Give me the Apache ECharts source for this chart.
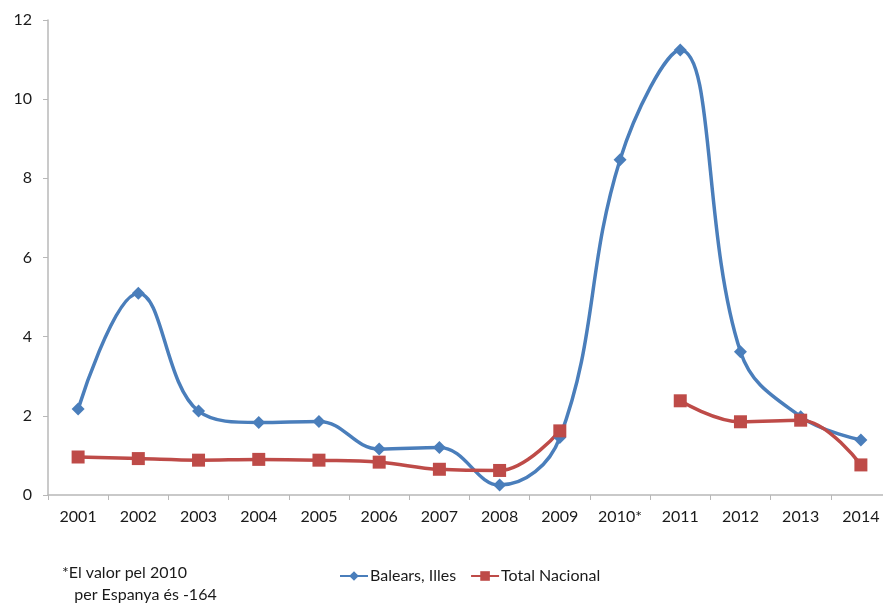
<!DOCTYPE html>
<html>
<head>
<meta charset="utf-8">
<script src="https://cdn.jsdelivr.net/npm/echarts@6/dist/echarts.min.js"></script>
<style>html,body{margin:0;padding:0;background:#fff}#c{width:883px;height:608px}</style>
</head>
<body>
<div id="c"></div>
<script>
const categories = ['2001','2002','2003','2004','2005','2006','2007','2008','2009','2010*','2011','2012','2013','2014'];
const balears = [2.17, 5.1, 2.12, 1.83, 1.86, 1.16, 1.2, 0.25, 1.45, 8.47, 11.24, 3.62, 1.98, 1.39];
const totalNacional = [0.96, 0.92, 0.88, 0.9, 0.88, 0.83, 0.65, 0.62, 1.62, null, 2.38, 1.85, 1.89, 0.76];
const yTicks = [0, 2, 4, 6, 8, 10, 12];
const noteLines = ['*El valor pel 2010', '   per Espanya és -164'];

const FONT = 'Lato';
const chart = echarts.init(document.getElementById('c'));
chart.setOption({
  animation: false,
  grid: { left: 48, top: 20, bottom: 113, right: -8, outerBoundsMode: 'none', containLabel: false },
  legend: {
    left: 334, top: 563,
    itemWidth: 28, itemHeight: 12, itemGap: 14,
    textStyle: { fontFamily: FONT, fontSize: 16, color: '#1a1a1a', padding: [0, 0, 0, -3] },
    data: ['Balears, Illes', 'Total Nacional']
  },
  xAxis: {
    type: 'category', data: categories, boundaryGap: true,
    axisLine: { lineStyle: { color: '#b8b8b8', width: 1.5 } },
    axisTick: { show: true, length: 5, lineStyle: { color: '#b8b8b8' } },
    axisLabel: { fontFamily: FONT, fontSize: 16, color: '#1a1a1a', margin: 14, interval: 0 }
  },
  yAxis: {
    type: 'value', min: yTicks[0], max: yTicks[yTicks.length - 1], interval: 2,
    splitLine: { show: false },
    axisLine: { show: true, lineStyle: { color: '#b8b8b8', width: 1.5 } },
    axisTick: { show: true, length: 5, lineStyle: { color: '#b8b8b8' } },
    axisLabel: { fontFamily: FONT, fontSize: 16, color: '#1a1a1a', margin: 16 }
  },
  series: [
    {
      name: 'Balears, Illes', type: 'line', data: balears, smooth: 0.4,
      symbol: 'diamond', symbolSize: 13,
      itemStyle: { color: '#4a7ebb' },
      lineStyle: { color: '#4a7ebb', width: 3.5 }
    },
    {
      name: 'Total Nacional', type: 'line', data: totalNacional, smooth: 0.4,
      connectNulls: false,
      symbol: 'rect', symbolSize: 13,
      itemStyle: { color: '#be4b48' },
      lineStyle: { color: '#be4b48', width: 3.5 }
    }
  ],
  graphic: noteLines.map((t, i) => ({
    type: 'text', left: 62, top: 565 + i * 22,
    style: { text: t, fontFamily: FONT, fontSize: 16, fill: '#1a1a1a' }
  }))
});
</script>
</body>
</html>
